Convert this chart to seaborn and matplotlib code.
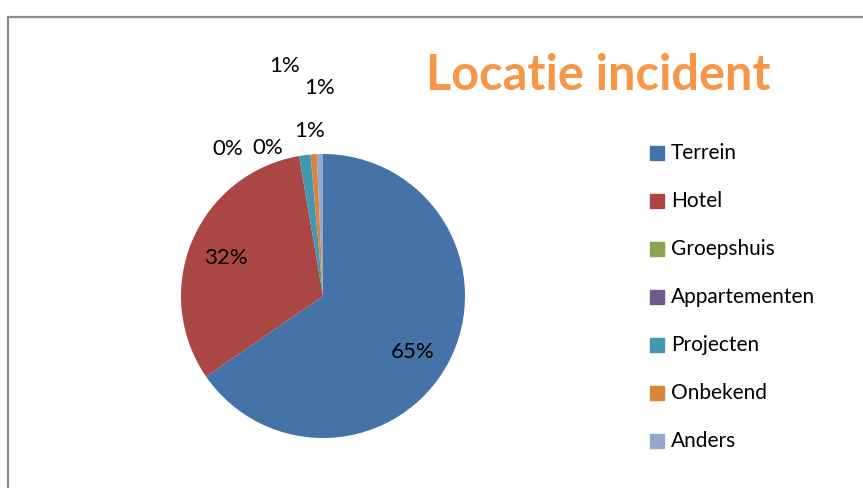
import numpy as np
import matplotlib.pyplot as plt
import seaborn as sns
from matplotlib.patches import Rectangle

# Data (aandeel per locatie, in %)
categories = ['Terrein', 'Hotel', 'Groepshuis', 'Appartementen', 'Projecten', 'Onbekend', 'Anders']
shares = [65.4, 31.9, 0.0, 0.0, 1.3, 0.7, 0.7]
shown_labels = ['65%', '32%', '0%', '0%', '1%', '1%', '1%']

colors = ['#4572A7', '#AA4643', '#89A54E', '#71588F', '#4198AF', '#DB843D', '#93A9CF']

sns.set_theme(style='white')
plt.rcParams['font.family'] = ['Lato', 'DejaVu Sans']

W, H = 863, 488
fig = plt.figure(figsize=(W / 100, H / 100), dpi=100)
ax = fig.add_axes([0, 0, 1, 1])

cx, cy, r = 323, H - 296, 142
wedges, _ = ax.pie(shares, colors=colors, startangle=90, counterclock=False,
                   center=(cx, cy), radius=r, wedgeprops=dict(linewidth=0))
ax.set_xlim(0, W)
ax.set_ylim(0, H)
ax.set_aspect('equal')
ax.axis('off')

# label positions (pixels, y from top) - Excel put the small ones outside
label_pos = [(413, 352), (226, 258), (228, 149), (268, 148), (310, 131), (285, 66), (320, 88)]
for lab, (x, y) in zip(shown_labels, label_pos):
    ax.text(x, H - y, lab, ha='center', va='center', fontsize=16, color='black')

# title
ax.text(598, H - 76, 'Locatie incident', ha='center', va='center',
        fontsize=35, fontweight='bold', color='#F79646')

# legend
for i, (cat, col) in enumerate(zip(categories, colors)):
    y = H - (153 + i * 48.0)
    ax.add_patch(Rectangle((650, y - 7), 14, 14, color=col, clip_on=False))
    ax.text(671, y, cat, ha='left', va='center', fontsize=15, color='black')

# chart border (cut off at right and bottom)
fig.patches.append(Rectangle((8 / W, -0.1), 1.2, (H - 17) / H + 0.1, transform=fig.transFigure,
                             fill=False, edgecolor='#8c8c8c', linewidth=1.6))

plt.savefig('out.png', dpi=100)
plt.close()
